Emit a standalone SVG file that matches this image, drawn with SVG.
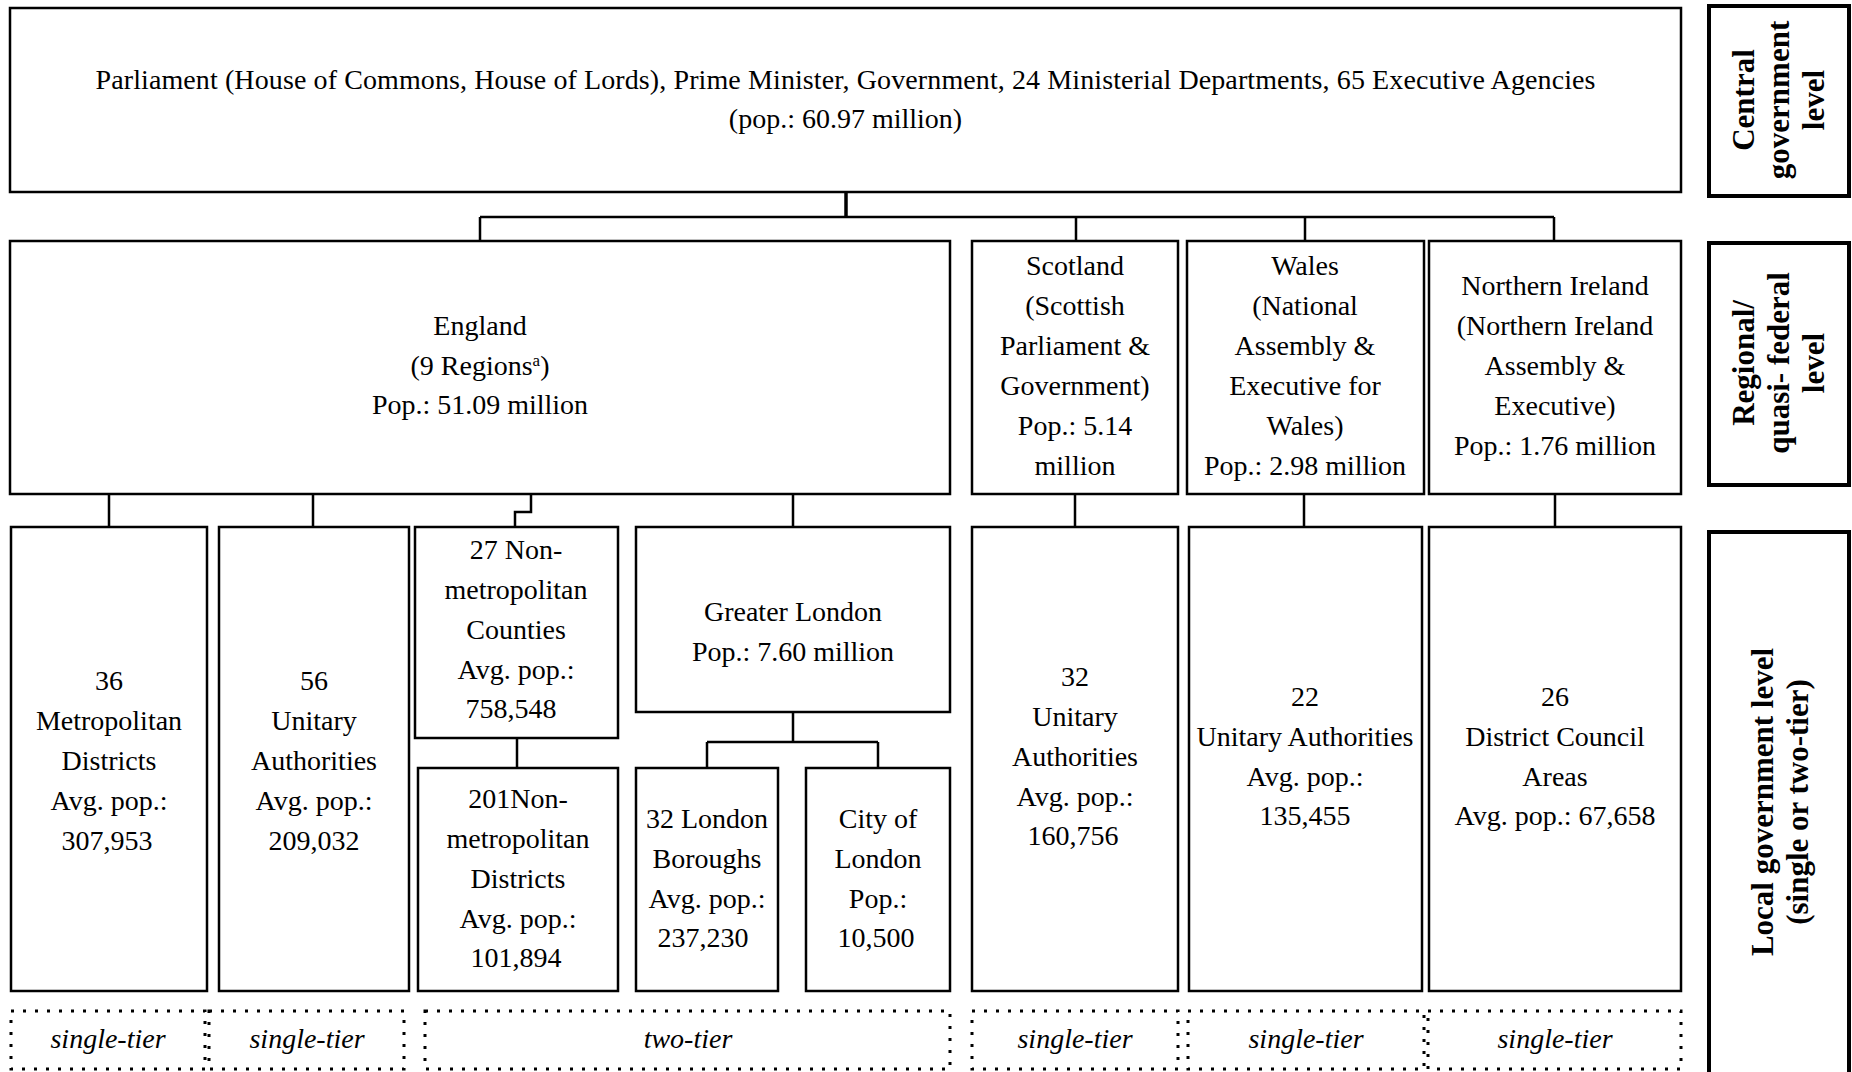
<svg xmlns="http://www.w3.org/2000/svg" width="1852" height="1072" viewBox="0 0 1852 1072">
<style>
.box{fill:#fff;stroke:#000;stroke-width:2.5}
.side{fill:#fff;stroke:#000;stroke-width:4}
.dot{fill:none;stroke:#000;stroke-width:3;stroke-dasharray:3 9}
.conn{fill:none;stroke:#000;stroke-width:2.5}
.t{font-family:"Liberation Serif",serif;font-size:28px;text-anchor:middle;fill:#000}
.it{font-style:italic}
.sl{font-family:"Liberation Serif",serif;font-weight:bold;font-size:31px;text-anchor:middle;fill:#000}
</style>
<rect width="1852" height="1072" fill="#fff"/>

<g id="connectors">
<path class="conn" d="M846,192 V217" style="stroke-width:3.5"/>
<path class="conn" d="M480,217 H1554 M480,217 V241 M1076,217 V241 M1305,217 V241 M1554,217 V241"/>
<path class="conn" d="M109,494 V527 M313,494 V527 M531,494 V512 H515 V527 M793,494 V527"/>
<path class="conn" d="M1075,494 V527 M1304,494 V527 M1555,494 V527"/>
<path class="conn" d="M517,738 V768"/>
<path class="conn" d="M793,712 V742 M707,742 H878 M707,742 V768 M878,742 V768"/>
</g>

<g id="central">
<rect class="box" x="10" y="8" width="1671" height="184"/>
<text class="t"><tspan x="845.5" y="89" textLength="1500">Parliament (House of Commons, House of Lords), Prime Minister, Government, 24 Ministerial Departments, 65 Executive Agencies</tspan><tspan x="845.5" y="128">(pop.: 60.97 million)</tspan></text>
</g>

<g id="england">
<rect class="box" x="10" y="241" width="940" height="253"/>
<text class="t"><tspan x="480" y="335">England</tspan><tspan x="480" y="375">(9 Regions<tspan baseline-shift="super" font-size="17">a</tspan>)</tspan><tspan x="480" y="414">Pop.: 51.09 million</tspan></text>
</g>

<g id="scotland">
<rect class="box" x="972" y="241" width="206" height="253"/>
<text class="t"><tspan x="1075" y="275">Scotland</tspan><tspan x="1075" y="315">(Scottish</tspan><tspan x="1075" y="355">Parliament &amp;</tspan><tspan x="1075" y="395">Government)</tspan><tspan x="1075" y="435">Pop.: 5.14</tspan><tspan x="1075" y="475">million</tspan></text>
</g>

<g id="wales">
<rect class="box" x="1187" y="241" width="237" height="253"/>
<text class="t"><tspan x="1305" y="275">Wales</tspan><tspan x="1305" y="315">(National</tspan><tspan x="1305" y="355">Assembly &amp;</tspan><tspan x="1305" y="395">Executive for</tspan><tspan x="1305" y="435">Wales)</tspan><tspan x="1305" y="475">Pop.: 2.98 million</tspan></text>
</g>

<g id="nireland">
<rect class="box" x="1429" y="241" width="252" height="253"/>
<text class="t"><tspan x="1555" y="295">Northern Ireland</tspan><tspan x="1555" y="335">(Northern Ireland</tspan><tspan x="1555" y="375">Assembly &amp;</tspan><tspan x="1555" y="415">Executive)</tspan><tspan x="1555" y="455">Pop.: 1.76 million</tspan></text>
</g>

<g id="metropolitan-districts">
<rect class="box" x="11" y="527" width="196" height="464"/>
<text class="t"><tspan x="109" y="690">36</tspan><tspan x="109" y="730">Metropolitan</tspan><tspan x="109" y="770">Districts</tspan><tspan x="109" y="810">Avg. pop.:</tspan><tspan x="107" y="850">307,953</tspan></text>
</g>

<g id="england-unitary">
<rect class="box" x="219" y="527" width="190" height="464"/>
<text class="t"><tspan x="314" y="690">56</tspan><tspan x="314" y="730">Unitary</tspan><tspan x="314" y="770">Authorities</tspan><tspan x="314" y="810">Avg. pop.:</tspan><tspan x="314" y="850">209,032</tspan></text>
</g>

<g id="nonmet-counties">
<rect class="box" x="415" y="527" width="203" height="211"/>
<text class="t"><tspan x="516" y="559">27 Non-</tspan><tspan x="516" y="599">metropolitan</tspan><tspan x="516" y="639">Counties</tspan><tspan x="516" y="679">Avg. pop.:</tspan><tspan x="511" y="718">758,548</tspan></text>
</g>

<g id="nonmet-districts">
<rect class="box" x="418" y="768" width="200" height="223"/>
<text class="t"><tspan x="518" y="808">201Non-</tspan><tspan x="518" y="848">metropolitan</tspan><tspan x="518" y="888">Districts</tspan><tspan x="518" y="928">Avg. pop.:</tspan><tspan x="516" y="967">101,894</tspan></text>
</g>

<g id="greater-london">
<rect class="box" x="636" y="527" width="314" height="185"/>
<text class="t"><tspan x="793" y="621">Greater London</tspan><tspan x="793" y="661">Pop.: 7.60 million</tspan></text>
</g>

<g id="london-boroughs">
<rect class="box" x="636" y="768" width="142" height="223"/>
<text class="t"><tspan x="707" y="828">32 London</tspan><tspan x="707" y="868">Boroughs</tspan><tspan x="707" y="908">Avg. pop.:</tspan><tspan x="703" y="947">237,230</tspan></text>
</g>

<g id="city-of-london">
<rect class="box" x="806" y="768" width="144" height="223"/>
<text class="t"><tspan x="878" y="828">City of</tspan><tspan x="878" y="868">London</tspan><tspan x="878" y="908">Pop.:</tspan><tspan x="876" y="947">10,500</tspan></text>
</g>

<g id="scotland-unitary">
<rect class="box" x="972" y="527" width="206" height="464"/>
<text class="t"><tspan x="1075" y="686">32</tspan><tspan x="1075" y="726">Unitary</tspan><tspan x="1075" y="766">Authorities</tspan><tspan x="1075" y="806">Avg. pop.:</tspan><tspan x="1073" y="845">160,756</tspan></text>
</g>

<g id="wales-unitary">
<rect class="box" x="1189" y="527" width="233" height="464"/>
<text class="t"><tspan x="1305" y="706">22</tspan><tspan x="1305" y="746">Unitary Authorities</tspan><tspan x="1305" y="786">Avg. pop.:</tspan><tspan x="1305" y="825">135,455</tspan></text>
</g>

<g id="ni-districts">
<rect class="box" x="1429" y="527" width="252" height="464"/>
<text class="t"><tspan x="1555" y="706">26</tspan><tspan x="1555" y="746">District Council</tspan><tspan x="1555" y="786">Areas</tspan><tspan x="1555" y="825">Avg. pop.: 67,658</tspan></text>
</g>

<g id="tiers">
<rect class="dot" x="11" y="1011" width="194" height="58"/>
<rect class="dot" x="209" y="1011" width="195" height="58"/>
<rect class="dot" x="425" y="1011" width="525" height="58"/>
<rect class="dot" x="972" y="1011" width="206" height="58"/>
<rect class="dot" x="1188" y="1011" width="236" height="58"/>
<rect class="dot" x="1428" y="1011" width="253" height="58"/>
<text class="t it" x="108" y="1048">single-tier</text>
<text class="t it" x="307" y="1048">single-tier</text>
<text class="t it" x="688" y="1048">two-tier</text>
<text class="t it" x="1075" y="1048">single-tier</text>
<text class="t it" x="1306" y="1048">single-tier</text>
<text class="t it" x="1555" y="1048">single-tier</text>
</g>

<g id="level-central">
<rect class="side" x="1709" y="6" width="140" height="190"/>
<text class="sl" transform="translate(1779,100) rotate(-90)"><tspan x="0" y="-25">Central</tspan><tspan x="0" y="10">government</tspan><tspan x="0" y="45">level</tspan></text>
</g>

<g id="level-regional">
<rect class="side" x="1709" y="243" width="140" height="242"/>
<text class="sl" transform="translate(1779,363) rotate(-90)"><tspan x="0" y="-25">Regional/</tspan><tspan x="0" y="10">quasi- federal</tspan><tspan x="0" y="45">level</tspan></text>
</g>

<g id="level-local">
<rect class="side" x="1709" y="532" width="140" height="545"/>
<text class="sl" transform="translate(1779,802) rotate(-90)"><tspan x="0" y="-6">Local government level</tspan><tspan x="0" y="29">(single or two-tier)</tspan></text>
</g>
</svg>
